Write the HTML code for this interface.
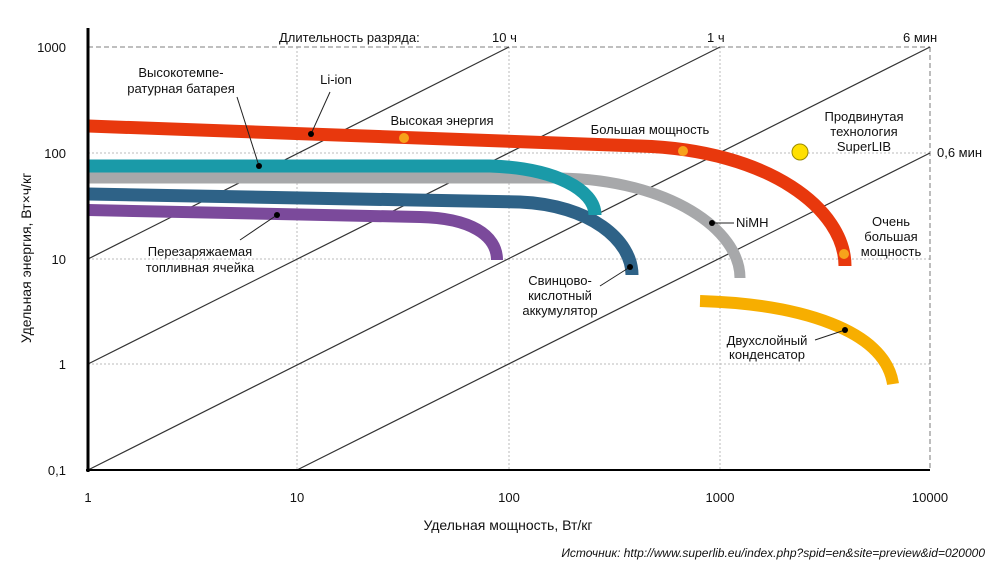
<!DOCTYPE html>
<html><head><meta charset="utf-8"><style>
body{margin:0;background:#fff}
svg text{font-family:"Liberation Sans",sans-serif;fill:#111}
</style></head><body>
<svg width="1000" height="569" viewBox="0 0 1000 569" xmlns="http://www.w3.org/2000/svg">
<g stroke="#bbb" stroke-width="1" stroke-dasharray="2,2" fill="none">
<line x1="88" y1="153" x2="930" y2="153"/><line x1="88" y1="259" x2="930" y2="259"/><line x1="88" y1="364" x2="930" y2="364"/>
<line x1="297" y1="47" x2="297" y2="470"/><line x1="509" y1="47" x2="509" y2="470"/><line x1="720" y1="47" x2="720" y2="470"/>
</g>
<g stroke="#999" stroke-width="1.3" stroke-dasharray="5,3" fill="none">
<line x1="88" y1="47" x2="930" y2="47"/><line x1="930" y1="47" x2="930" y2="470"/>
</g>
<g stroke="#333" stroke-width="1.2" fill="none">
<line x1="88" y1="259" x2="509" y2="47"/><line x1="88" y1="364" x2="720" y2="47"/>
<line x1="88" y1="470" x2="930" y2="47"/><line x1="297" y1="470" x2="930" y2="153"/>
</g>
<g fill="none" stroke-linecap="butt">
<path d="M88,210 L420,217 C470,218 497,235 497,260" stroke="#7b4a9b" stroke-width="12"/>
<path d="M88,194 L520,202 C590,205 632,240 632,275" stroke="#2e6287" stroke-width="13"/>
<path d="M88,178 L560,178 C670,180 740,230 740,278" stroke="#a7a8aa" stroke-width="11"/>
<path d="M88,166 L490,166 C555,168 595,190 595,215" stroke="#1a9aa8" stroke-width="13"/>
<path d="M88,126 L640,146 C770,150 845,210 845,266" stroke="#e8380d" stroke-width="13"/>
<path d="M700,301 C800,304 885,330 893,384" stroke="#f7ae00" stroke-width="12"/>
</g>
<line x1="88" y1="28" x2="88" y2="472" stroke="#000" stroke-width="3"/>
<line x1="86" y1="470" x2="930" y2="470" stroke="#000" stroke-width="2"/>
<circle cx="404" cy="138" r="5" fill="#f7a21b"/><circle cx="683" cy="151" r="5" fill="#f7a21b"/><circle cx="844" cy="254" r="5" fill="#f7a21b"/>
<circle cx="800" cy="152" r="8" fill="#ffe000" stroke="#9a8a00" stroke-width="1"/>
<g stroke="#222" stroke-width="1">
<line x1="237" y1="97" x2="259" y2="166"/><line x1="330" y1="92" x2="311" y2="134"/>
<line x1="240" y1="240" x2="277" y2="215"/><line x1="600" y1="286" x2="630" y2="267"/>
<line x1="712" y1="223" x2="734" y2="223"/><line x1="815" y1="340" x2="845" y2="330"/>
</g>
<g fill="#000"><circle cx="259" cy="166" r="3"/><circle cx="311" cy="134" r="3"/><circle cx="277" cy="215" r="3"/><circle cx="630" cy="267" r="3"/><circle cx="712" cy="223" r="3"/><circle cx="845" cy="330" r="3"/></g>
<g font-size="13" text-anchor="end">
<text x="66" y="52">1000</text><text x="66" y="158">100</text><text x="66" y="264">10</text><text x="66" y="369">1</text><text x="66" y="475">0,1</text>
</g>
<g font-size="13" text-anchor="middle">
<text x="88" y="502">1</text><text x="297" y="502">10</text><text x="509" y="502">100</text><text x="720" y="502">1000</text><text x="930" y="502">10000</text>
<text x="508" y="530" font-size="14">Удельная мощность, Вт/кг</text>
<text x="181" y="77">Высокотемпе-</text><text x="181" y="93">ратурная батарея</text>
<text x="336" y="84">Li-ion</text><text x="442" y="125">Высокая энергия</text>
<text x="650" y="134">Большая мощность</text>
<text x="864" y="121">Продвинутая</text><text x="864" y="136">технология</text><text x="864" y="151">SuperLIB</text>
<text x="200" y="256">Перезаряжаемая</text><text x="200" y="272">топливная ячейка</text>
<text x="560" y="285">Свинцово-</text><text x="560" y="300">кислотный</text><text x="560" y="315">аккумулятор</text>
<text x="891" y="226">Очень</text><text x="891" y="241">большая</text><text x="891" y="256">мощность</text>
<text x="767" y="345">Двухслойный</text><text x="767" y="359">конденсатор</text>
</g>
<g font-size="13">
<text x="279" y="42">Длительность разряда:</text><text x="492" y="42">10 ч</text><text x="707" y="42">1 ч</text><text x="903" y="42">6 мин</text>
<text x="937" y="157">0,6 мин</text><text x="736" y="227">NiMH</text>
</g>
<text transform="translate(31,258) rotate(-90)" font-size="14" text-anchor="middle">Удельная энергия, Вт×ч/кг</text>
<text x="985" y="557" font-size="12" font-style="italic" text-anchor="end">Источник: http://www.superlib.eu/index.php?spid=en&amp;site=preview&amp;id=020000</text>
</svg>
</body></html>
